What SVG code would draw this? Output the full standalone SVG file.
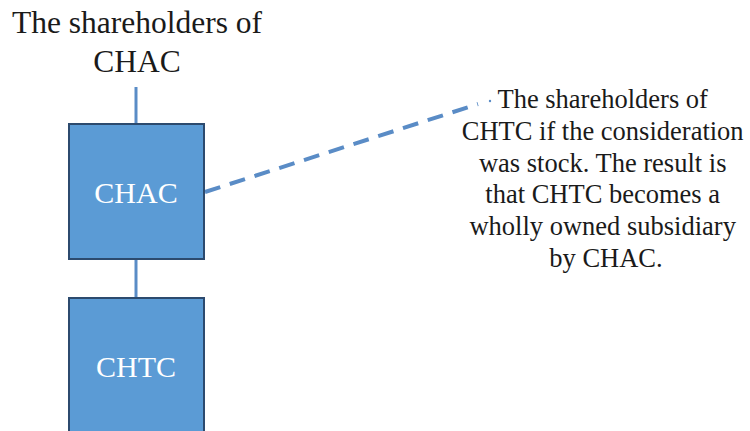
<svg xmlns="http://www.w3.org/2000/svg" width="750" height="431" viewBox="0 0 750 431">
<style>
.t{font-family:"Liberation Serif","Times New Roman",serif;fill:#1a1a1a;text-anchor:middle}
.box{fill:#5b9bd5;stroke:#2c4a6e;stroke-width:2}
.bt{font-family:"Liberation Serif","Times New Roman",serif;fill:#ffffff;text-anchor:middle;font-size:30px}
.conn{stroke:#5a8cc6;stroke-width:3;fill:none}
.dash{stroke:#5a8cc6;stroke-width:4;fill:none;stroke-dasharray:16 10}
</style>
<rect width="750" height="431" fill="#ffffff"/>
<g id="connectors">
<line class="conn" x1="136" y1="87" x2="136" y2="123"/>
<line class="conn" x1="136" y1="259" x2="136" y2="298"/>
<line class="dash" x1="205" y1="192" x2="478" y2="104"/>
<circle cx="490" cy="101" r="1.2" fill="#5a8cc6"/>
</g>
<g id="shareholders-chac">
<text class="t" x="137" y="33" font-size="31.5">The shareholders of</text>
<text class="t" x="137" y="72" font-size="31.5">CHAC</text>
</g>
<g id="chac">
<rect class="box" x="69" y="124" width="135" height="135"/>
<text class="bt" x="136" y="203">CHAC</text>
</g>
<g id="chtc">
<rect class="box" x="69" y="298" width="135" height="140"/>
<text class="bt" x="136" y="377">CHTC</text>
</g>
<g id="shareholders-chtc">
<text class="t" font-size="26.5">
<tspan x="606" y="108">The shareholders of</tspan>
<tspan x="606" y="140">CHTC if the consideration</tspan>
<tspan x="606" y="172">was stock. The result is</tspan>
<tspan x="606" y="203">that CHTC becomes a</tspan>
<tspan x="606" y="235">wholly owned subsidiary</tspan>
<tspan x="606" y="267">by CHAC.</tspan>
</text>
</g>
</svg>
